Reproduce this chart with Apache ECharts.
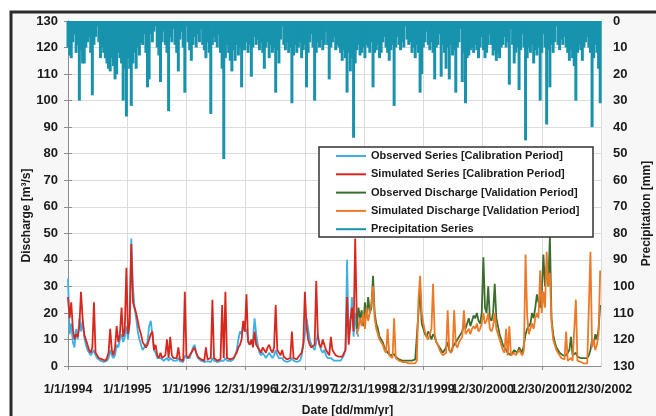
<!DOCTYPE html>
<html><head><meta charset="utf-8">
<script src="https://cdn.jsdelivr.net/npm/echarts@6/dist/echarts.min.js"></script>
<style>html,body{margin:0;padding:0;background:#fff}#c{width:656px;height:416px}</style>
</head><body><div id="c"></div>
<script>
// ---- data (10-day sampling steps, day 0 = 1/1/1994) ----
const DAY_STEP = 10;
const tickLabels = ['1/1/1994','1/1/1995','1/1/1996','12/31/1996','12/31/1997','12/31/1998','12/31/1999','12/30/2000','12/30/2001','12/30/2002'];
const seriesNames = ['Observed Series [Calibration Period]','Simulated Series [Calibration Period]','Observed Discharge [Validation Period]','Simulated Discharge [Validation Period]','Precipitation Series'];

const precipitation = [
10,13,14,8,5,12,9,30,11,16,
16,10,8,6,12,28,9,6,2,8,
14,10,12,14,16,18,19,14,17,22,
20,12,14,16,30,18,36,14,18,32,
16,12,18,10,13,8,9,5,12,25,
22,5,8,4,2,10,13,23,8,4,
9,12,34,6,8,3,9,12,19,7,
4,10,27,2,8,11,15,9,6,10,
5,8,3,9,11,14,8,12,35,9,
6,8,10,5,12,18,52,14,9,12,
15,19,11,15,9,13,10,25,11,11,
8,12,9,21,10,6,9,7,11,8,
12,18,10,8,14,9,12,10,27,11,
16,7,2,9,11,8,12,10,31,13,
9,12,10,8,14,11,9,25,12,8,
5,10,30,12,8,10,7,11,9,4,
9,22,10,8,6,11,9,10,12,15,
11,14,27,12,19,14,44,16,11,9,
13,12,10,14,9,10,12,8,25,12,
11,9,14,12,8,6,10,12,15,11,
9,32,10,6,9,11,8,10,2,7,
9,8,12,10,14,9,12,27,20,10,
8,4,9,11,8,12,22,10,9,5,
21,9,12,18,10,22,9,13,11,27,
10,8,3,23,12,31,14,13,11,10,
12,9,11,14,10,6,11,14,12,9,
5,9,13,11,15,12,14,10,9,6,
10,8,24,3,9,16,12,10,26,11,
5,10,45,14,10,12,9,16,11,13,
10,30,12,5,10,39,11,25,9,12,
8,2,9,11,7,9,6,10,12,15,
11,14,17,30,12,9,11,15,10,8,
6,10,12,40,14,9,12,18,31
];

const calibrationStartDay = 0;
const observedCalibration = [
33,12,16,9,7,14,10,18,13,17,
11,8,6,5,4,5,6,4,3,2.5,
2,2,1.5,1.5,2,3,6,4,3,4,
8,7,10,12,9,11,15,10,18,48,
30,22,18,13,10,8,6,7,7,9,
15,17,12,6,5,3,2.5,3,2.5,2,
2.5,3,2,3,2.5,2,1.8,2,3,1.8,
1.5,1.5,4,3,2.5,3,5,7,8,5,
3,2.5,2,1.8,1.5,2,1.8,1.5,1.5,3,
2,1.8,1.5,1.5,1.8,2.5,2,3,2,1.8,
1.8,2,2.5,4,6,10,13,12,16,13,
14,10,8,9,10,18,12,8,5,4,
5,4,3,4,5,4,3,4,6,4,
3,2.5,3,2,1.8,1.5,1.5,2,3,2,
1.5,1.5,2,2,4,8,12,18,14,10,
8,7,6,9,12,8,6,5,6,4,
3,2.5,3,2.5,2,2,2,2,2,3,
4,6,40,10,15,26,11,20,13,11
];
const simulatedCalibration = [
26,18,24,14,10,12,11,15,28,18,
12,10,8,6,5,7,24,5,4,3,
2.5,2.5,2,2,3,5,14,6,4,7,
15,9,12,22,11,14,37,12,16,46,
24,22,20,17,14,12,9,8,7,8,
10,12,13,6,8,4,3,5,3,3,
4,10,3,11,4,3,2.5,3,7,2.5,
2,2,28,4,3,4,5,6,7,5,
3.5,3,2.5,2.5,2,7,2.5,2,3,25,
3,2.5,2,2,2.5,23,3,28,3,2.5,
2.5,2.5,3,4,5,7,8,10,17,13,
27,9,8,10,7,13,8,7,6,5,
7,6,5,7,8,6,5,7,23,6,
5,4,6,3.5,3,2.5,2.5,3,13,3,
2.5,2.5,3.5,3,5,8,28,15,10,8,
7,7,8,32,11,8,7,10,8,6,
5,4,11,6,5,4,3.5,3.5,3,3.5,
4,6,26,8,17,22,13,48,18,14
];

const validationStartDay = 1780;
const observedValidation = [
14,22,18,21,15,24,18,26,20,22,
34,20,16,14,11,10,9,7,6,5,
5,4,4,4.5,3.5,3,2.5,2.5,2,2,
2,1.8,2,2,2,2,2.5,3,20,30,
16,14,12,11,13,12,10,12,11,9,
8,7,6,5,5,7,9,6,5,7,
8,9,10,11,12,13,16,14,16,18,
15,17,19,18,20,17,16,20,41,22,
20,30,18,17,20,31,18,15,12,10,
8,7,6,5,5,4,5,6,6,5,
7,6,5,8,12,14,15,16,20,18,
22,27,24,22,28,42,30,38,30,49,
18,12,9,7,6,5,5,4,4,4,
4,6,11,4,3.5,5,3.5,3,3,3,
3,3,3,4,6,10,8,12,10,14,
23
];
const simulatedValidation = [
12,14,18,15,20,14,22,17,20,24,
30,18,14,12,10,9,8,6,5,14,
4,3.5,3,18,3,2.5,2,2,1.5,2,
1.5,1.2,1,1,1,1,1,2,25,34,
20,16,13,11,10,12,14,31,12,9,
8,6,5,4,4,5,21,6,5,6,
21,8,7,9,10,11,21,12,13,14,
12,14,15,14,16,13,14,16,20,16,
17,20,14,13,15,20,14,12,10,8,
6,5,14,4,15,4,3.5,5,4,4,
6,5,4,6,42,19,12,14,16,14,
18,20,18,36,20,28,22,43,30,35,
17,10,8,6,5,4,3,3,2.5,13,
2,2,3,2,1.5,25,2,1.5,1.5,1.2,
1,1,1,1.5,43,7,10,6,8,12,
36
];

// ---- chart ----
const toPairs = (arr, start) => arr.map((v, i) => [start + i * DAY_STEP, v]);
const font = "'Liberation Sans', Arial, sans-serif";
const textColor = '#1a1a1a';
const colors = ['#3db0e6', '#d8281e', '#3b6e2c', '#ec7a28', '#1893ae'];
const X_MAX = 3285, X_STEP = 365;

const chart = echarts.init(document.getElementById('c'));
const lineSeries = (idx, data, start) => ({
  name: seriesNames[idx], type: 'line', data: toPairs(data, start),
  showSymbol: false, symbol: 'none',
  lineStyle: { width: 1.8, color: colors[idx] }, itemStyle: { color: colors[idx] }
});
const tickLabelStyle = { margin: 17, fontFamily: font, fontWeight: 'bold', fontSize: 12.5, color: textColor };

chart.setOption({
  animation: false,
  backgroundColor: '#ffffff',
  graphic: [
    { type: 'rect', z: -10, silent: true, shape: { x: 11, y: 12, width: 700, height: 460 },
      style: { fill: '#f7f7f7', stroke: '#2b2b2b', lineWidth: 3 } },
    { type: 'rect', z: 50, silent: true, shape: { x: 319, y: 147, width: 274, height: 90 },
      style: { fill: '#ffffff', stroke: '#333333', lineWidth: 1.5 } }
  ],
  grid: { left: 68, right: 55, top: 21, bottom: 50, show: true, backgroundColor: '#ffffff', borderWidth: 0,
    containLabel: false, outerBoundsMode: 'none' },
  legend: {
    orient: 'vertical', left: 336, top: 148, padding: 0, z: 60,
    icon: 'rect', itemWidth: 30, itemHeight: 2, itemGap: 2.3,
    textStyle: { fontFamily: font, fontWeight: 'bold', fontSize: 11, color: textColor, lineHeight: 16 },
    data: seriesNames
  },
  xAxis: [
    {
      type: 'value', min: 0, max: X_MAX, interval: X_STEP,
      axisLine: { show: true, lineStyle: { color: '#8c8c8c' } },
      axisTick: { show: true, length: 4, lineStyle: { color: '#8c8c8c' } },
      axisLabel: Object.assign({}, tickLabelStyle, { showMinLabel: true, showMaxLabel: false,
        formatter: v => tickLabels[Math.round(v / X_STEP)] || '' }),
      splitLine: { show: true, lineStyle: { color: '#dcdcdc' } },
      name: 'Date [dd/mm/yr]', nameLocation: 'middle', nameGap: 39, nameMoveOverlap: false,
      nameTextStyle: { fontFamily: font, fontWeight: 'bold', fontSize: 12, color: textColor, padding: [0, 0, 0, 26] }
    },
    {
      // carries only the last date label (so it does not hide its neighbour)
      type: 'value', position: 'bottom', min: 0, max: X_MAX, interval: X_MAX,
      axisLine: { show: false }, axisTick: { show: false }, splitLine: { show: false },
      axisLabel: Object.assign({}, tickLabelStyle, { showMinLabel: false, showMaxLabel: true,
        formatter: v => (v === X_MAX ? tickLabels[tickLabels.length - 1] : '') })
    }
  ],
  yAxis: [
    {
      type: 'value', position: 'left', min: 0, max: 130, interval: 10,
      axisLine: { show: true, lineStyle: { color: '#8c8c8c' } },
      axisTick: { show: true, length: 4, lineStyle: { color: '#8c8c8c' } },
      axisLabel: { margin: 10, fontFamily: font, fontWeight: 'bold', fontSize: 13, color: textColor },
      splitLine: { show: true, lineStyle: { color: '#dcdcdc' } },
      name: 'Discharge [m³/s]', nameLocation: 'middle', nameGap: 35, nameRotate: 90, nameMoveOverlap: false,
      nameTextStyle: { fontFamily: font, fontWeight: 'bold', fontSize: 12, color: textColor, padding: [0, 44, 0, 0] }
    },
    {
      type: 'value', position: 'right', inverse: true, min: 0, max: 130, interval: 10,
      axisLine: { show: true, lineStyle: { color: '#8c8c8c' } },
      axisTick: { show: true, length: 4, lineStyle: { color: '#8c8c8c' } },
      axisLabel: { margin: 12, fontFamily: font, fontWeight: 'bold', fontSize: 13, color: textColor },
      splitLine: { show: false },
      name: 'Precipitation [mm]', nameLocation: 'middle', nameGap: 40, nameRotate: 90, nameMoveOverlap: false,
      nameTextStyle: { fontFamily: font, fontWeight: 'bold', fontSize: 12, color: textColor, padding: [0, 40, 0, 0] }
    }
  ],
  series: [
    lineSeries(0, observedCalibration, calibrationStartDay),
    lineSeries(1, simulatedCalibration, calibrationStartDay),
    lineSeries(2, observedValidation, validationStartDay),
    lineSeries(3, simulatedValidation, validationStartDay),
    { name: seriesNames[4], type: 'bar', yAxisIndex: 1, barWidth: 3, clip: true,
      data: toPairs(precipitation, 0), itemStyle: { color: colors[4] } }
  ]
});
</script>
</body></html>
